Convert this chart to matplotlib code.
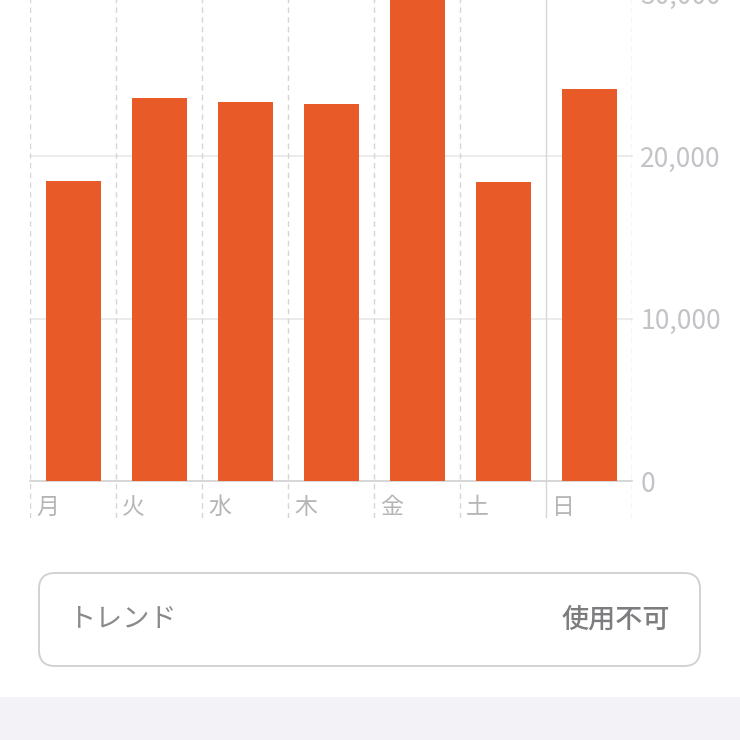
import matplotlib
matplotlib.use("Agg")
import matplotlib.pyplot as plt
from matplotlib.patches import FancyBboxPatch, Rectangle

plt.rcParams['font.family'] = ['Noto Sans CJK JP', 'DejaVu Sans']

# ---- data ----
days = ["月", "火", "水", "木", "金", "土", "日"]
steps = [18460, 23550, 23320, 23200, 31500, 18380, 24120]
yticks = [0, 10000, 20000, 30000]
trend_label = "トレンド"
trend_value = "使用不可"

BAR = "#E95A29"
GRID = "#d6d6d8"
LABEL = "#c3c3c7"

W = H = 740
fig = plt.figure(figsize=(W / 100, H / 100), dpi=100)
fig.patch.set_facecolor("white")

# axes: left=30px, right=632px, baseline at y=481px (from top), 162.5px per 10k
px_per_unit = 162.5 / 10000
y_lo, y_hi = -37 / px_per_unit, 32000
ax_bottom_px = 481 + 37
ax_h_px = (y_hi - y_lo) * px_per_unit
ax = fig.add_axes([30 / W, (H - ax_bottom_px) / H, 602 / W, ax_h_px / H])
ax.set_xlim(0, len(days))
ax.set_ylim(y_lo, y_hi)
ax.set_facecolor("none")
for s in ax.spines.values():
    s.set_visible(False)

# horizontal grid
for v in yticks:
    ax.plot([0, len(days)], [v, v], color="#d0d0d0" if v == 0 else "#e8e8e8",
            lw=1.2, zorder=1, clip_on=False)

# vertical separators (solid before the last day)
for i in range(len(days) + 1):
    ax.plot([i, i], [y_lo, y_hi], color=GRID, lw=1.0,
            ls="-" if i == len(days) - 1 else (0, (4, 3)), zorder=1)

xs = [i + 0.5 for i in range(len(days))]
ax.bar(xs, steps, width=55 / 86, color=BAR, zorder=2)

# day labels
for i, d in enumerate(days):
    ax.text(i + 6 / 86, -1650, d, ha="left", va="center", fontsize=16.5,
            color="#b5b5b8")

ax.set_xticks([])
ax.yaxis.tick_right()
ax.set_yticks(yticks)
ax.set_yticklabels([f"{v:,}" for v in yticks])
ax.tick_params(axis="y", length=0, pad=6, labelsize=19, labelcolor=LABEL)

# trend box
fig.patches.append(FancyBboxPatch((39, H - 666), 661, 93,
                                  boxstyle="round,pad=0,rounding_size=16",
                                  transform=None, facecolor="white",
                                  edgecolor="#cfcfd2", lw=1.3))
fig.text(68 / W, (H - 620) / H, trend_label, ha="left", va="center",
         fontsize=19.5, color="#8a8a8e")
fig.text(670 / W, (H - 620) / H, trend_value, ha="right", va="center",
         fontsize=19.5, color="#7d7d80", fontweight="medium")

# bottom grey band
fig.patches.append(Rectangle((0, 0), W, H - 697, transform=None,
                             facecolor="#f2f2f7", edgecolor="none"))

fig.savefig("out.png", dpi=100)
